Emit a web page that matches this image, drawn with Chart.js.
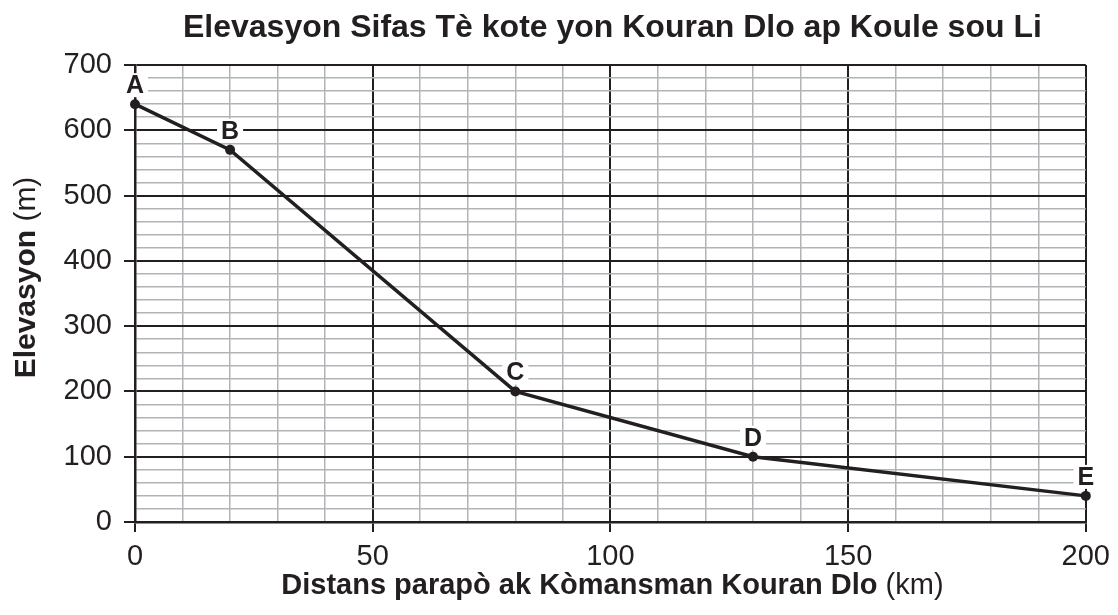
<!DOCTYPE html>
<html>
<head>
<meta charset="utf-8">
<script src="https://cdn.jsdelivr.net/npm/chart.js@4"></script>
<style>
  html, body { margin: 0; padding: 0; background: #fff; }
  #wrap { width: 1118px; height: 615px; }
</style>
</head>
<body>
<div id="wrap"><canvas id="chart-elevasyon"></canvas></div>
<script>
// done yo li sou grafik la
const pwen = ['A', 'B', 'C', 'D', 'E'];
const distans = [0, 20, 80, 130, 200];       // km
const elevasyon = [640, 570, 200, 100, 40];  // m

const tiTit = 'Elevasyon Sifas Tè kote yon Kouran Dlo ap Koule sou Li';
const tiX = ['Distans parapò ak Kòmansman Kouran Dlo', ' (km)'];
const tiY = ['Elevasyon', ' (m)'];

const NWA = '#231f20';
const GRI = '#b1b3b6';
const FONT = "'Liberation Sans', Arial, sans-serif";

// ekri de moso tèks (fonse + nòmal) youn apre lòt, santre sou cx
function deMoso(ctx, moso, cx, y, size) {
    ctx.font = 'bold ' + size + 'px ' + FONT;
    const w1 = ctx.measureText(moso[0]).width;
    ctx.font = size + 'px ' + FONT;
    const w2 = ctx.measureText(moso[1]).width;
    const x0 = cx - (w1 + w2) / 2;
    ctx.font = 'bold ' + size + 'px ' + FONT;
    ctx.fillText(moso[0], x0, y);
    ctx.font = size + 'px ' + FONT;
    ctx.fillText(moso[1], x0 + w1, y);
}

// ekri tit yo ak lèt pwen yo
const ekriTeks = {
    id: 'ekriTeks',
    beforeDatasetsDraw(chart) {
        const ctx = chart.ctx;
        const meta = chart.getDatasetMeta(0);
        ctx.save();
        ctx.font = 'bold 25px ' + FONT;
        ctx.textAlign = 'center';
        ctx.textBaseline = 'middle';
        meta.data.forEach(function (pt, i) {
            const cx = pt.x;
            const cy = pt.y - 19;
            const w = ctx.measureText(pwen[i]).width + 8;
            ctx.fillStyle = '#fff';
            ctx.fillRect(cx - w / 2, cy - 12, w, 24);
            ctx.fillStyle = NWA;
            ctx.fillText(pwen[i], cx, cy + 1);
        });
        ctx.restore();
    },
    afterDraw(chart) {
        const ctx = chart.ctx;
        const a = chart.chartArea;
        const mitan = (a.left + a.right) / 2 + 2;
        ctx.save();
        ctx.fillStyle = NWA;
        ctx.textBaseline = 'alphabetic';
        ctx.textAlign = 'left';
        ctx.font = 'bold 32px ' + FONT;
        const wt = ctx.measureText(tiTit).width;
        ctx.fillText(tiTit, mitan - wt / 2, 37);

        // tit aks x
        deMoso(ctx, tiX, mitan, 594, 29);

        // tit aks y, vire
        ctx.translate(35, (a.top + a.bottom) / 2 - 16);
        ctx.rotate(-Math.PI / 2);
        deMoso(ctx, tiY, 0, 0, 30);
        ctx.restore();
    }
};

const ctxElev = document.getElementById('chart-elevasyon').getContext('2d');
new Chart(ctxElev, {
    type: 'line',
    data: {
        labels: pwen,
        datasets: [{
            data: distans.map(function (d, i) { return { x: d, y: elevasyon[i] }; }),
            borderColor: NWA,
            borderWidth: 3.5,
            pointRadius: 5,
            pointBackgroundColor: NWA,
            pointBorderColor: NWA,
            pointBorderWidth: 0,
            tension: 0,
            fill: false,
            clip: false
        }]
    },
    options: {
        responsive: true,
        maintainAspectRatio: false,
        animation: false,
        layout: { padding: { left: 0, right: 25, top: 65, bottom: 0 } },
        plugins: {
            legend: { display: false },
            tooltip: { enabled: false },
            title: { display: false }
        },
        scales: {
            x: {
                type: 'linear',
                min: 0,
                max: 200,
                afterFit: function (s) { s.height = 93; },
                ticks: {
                    stepSize: 10,
                    autoSkip: false,
                    maxRotation: 0,
                    padding: 8,
                    color: NWA,
                    font: { family: FONT, size: 29 },
                    callback: function (v) { return v % 50 === 0 ? v : ''; }
                },
                grid: {
                    tickLength: 10,
                    color: function (c) { return c.tick && c.tick.value % 50 === 0 ? NWA : GRI; },
                    tickColor: function (c) { return c.tick && c.tick.value % 50 === 0 ? NWA : 'rgba(0,0,0,0)'; },
                    lineWidth: function (c) { return c.tick && c.tick.value % 50 === 0 ? 2 : 1.5; }
                },
                border: { color: NWA, width: 2.5 }
            },
            y: {
                min: 0,
                max: 700,
                afterFit: function (s) { s.width = 135; },
                ticks: {
                    stepSize: 20,
                    autoSkip: false,
                    padding: 12,
                    color: NWA,
                    font: { family: FONT, size: 29 },
                    callback: function (v) { return v % 100 === 0 ? v : ''; }
                },
                grid: {
                    tickLength: 11,
                    color: function (c) { return c.tick && c.tick.value % 100 === 0 ? NWA : GRI; },
                    tickColor: function (c) { return c.tick && c.tick.value % 100 === 0 ? NWA : 'rgba(0,0,0,0)'; },
                    lineWidth: function (c) { return c.tick && c.tick.value % 100 === 0 ? 2 : 1.5; }
                },
                border: { color: NWA, width: 2.5 }
            }
        }
    },
    plugins: [ekriTeks]
});
</script>
</body>
</html>
